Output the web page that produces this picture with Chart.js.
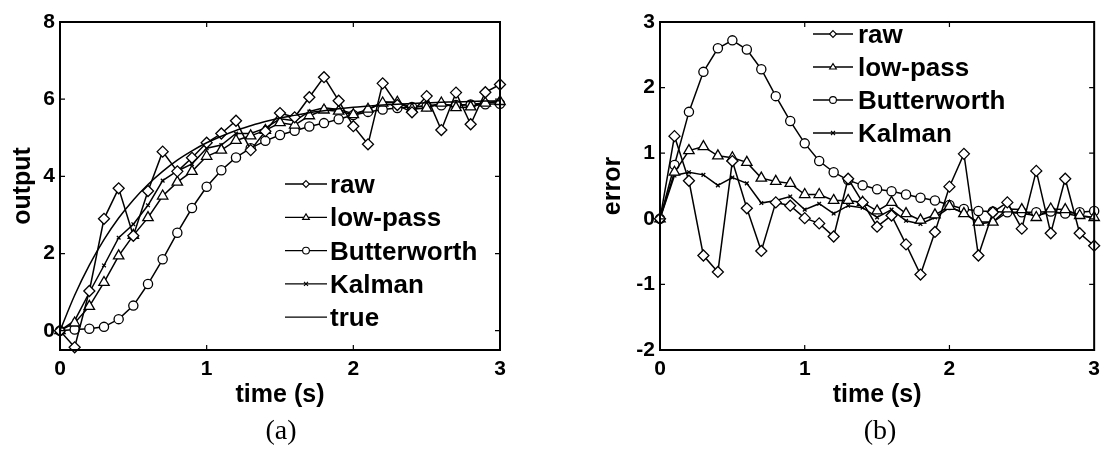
<!DOCTYPE html>
<html><head><meta charset="utf-8">
<script src="https://cdn.jsdelivr.net/npm/chart.js@4.4.1/dist/chart.umd.min.js"></script>
<style>
html,body{margin:0;padding:0;background:#fff;width:1107px;height:452px;overflow:hidden}
canvas{position:absolute;top:0}
#ca{left:0}
#cb{left:553px}
</style></head><body>
<canvas id="ca" width="553" height="452"></canvas>
<canvas id="cb" width="554" height="452"></canvas>
<script>
// ---- data ----
const time = [0,0.1,0.2,0.3,0.4,0.5,0.6,0.7,0.8,0.9,1.0,1.1,1.2,1.3,1.4,1.5,1.6,1.7,1.8,1.9,2.0,2.1,2.2,2.3,2.4,2.5,2.6,2.7,2.8,2.9,3.0];

// (a) output
const outRaw    = [0,-0.43,1.03,2.90,3.69,2.46,3.62,4.64,4.13,4.48,4.87,5.11,5.44,4.68,5.17,5.64,5.53,6.05,6.57,5.96,5.30,4.83,6.41,5.85,5.66,6.08,5.20,6.17,5.35,6.18,6.38];
const outLow    = [0,0.20,0.63,1.25,1.94,2.47,2.93,3.49,3.85,4.13,4.52,4.68,4.93,5.05,5.19,5.39,5.33,5.57,5.72,5.69,5.60,5.74,5.90,5.92,5.74,5.77,5.90,5.78,5.80,5.90,5.94];
const outButter = [0,0.03,0.05,0.10,0.30,0.65,1.21,1.85,2.54,3.18,3.73,4.16,4.49,4.73,4.92,5.07,5.18,5.29,5.38,5.48,5.59,5.67,5.73,5.77,5.80,5.82,5.84,5.85,5.86,5.87,5.88];
const outKalman = [0,0.26,0.99,1.69,2.41,2.76,3.25,3.89,4.14,4.32,4.73,4.81,5.11,5.11,5.25,5.49,5.44,5.68,5.78,5.73,5.62,5.72,5.93,5.92,5.79,5.83,5.87,5.83,5.86,5.91,5.94];
const outTrue   = [0,0.92,1.70,2.36,2.92,3.39,3.79,4.13,4.42,4.66,4.87,5.04,5.19,5.31,5.42,5.51,5.58,5.65,5.70,5.75,5.79,5.82,5.85,5.87,5.89,5.91,5.92,5.93,5.94,5.95,5.96];

// (b) error
const errRaw    = [0,1.26,0.58,-0.56,-0.81,0.88,0.16,-0.49,0.25,0.20,0.01,-0.07,-0.27,0.61,0.25,-0.12,0.05,-0.39,-0.85,-0.20,0.49,0.99,-0.56,0.10,0.25,-0.15,0.73,-0.22,0.61,-0.22,-0.41];
const errLow    = [0,0.71,1.04,1.10,0.96,0.93,0.86,0.62,0.57,0.54,0.37,0.37,0.28,0.28,0.25,0.12,0.25,0.08,-0.02,0.06,0.19,0.08,-0.05,-0.05,0.15,0.14,0.02,0.15,0.14,0.05,0.02];
const errButter = [0,0.82,1.63,2.24,2.60,2.72,2.58,2.28,1.87,1.49,1.15,0.88,0.71,0.59,0.51,0.45,0.42,0.37,0.32,0.28,0.21,0.15,0.12,0.11,0.10,0.10,0.10,0.11,0.08,0.10,0.12];
const errKalman = [0,0.66,0.71,0.67,0.51,0.63,0.54,0.24,0.28,0.34,0.14,0.23,0.08,0.20,0.17,0.02,0.14,-0.03,-0.08,0.02,0.17,0.10,-0.08,-0.05,0.10,0.08,0.05,0.10,0.08,0.04,0.02];

// ticks & labels
const xTicks = [0,1,2,3];
const yTicksA = [0,2,4,6,8];
const yTicksB = [-2,-1,0,1,2,3];
const seriesNames = ['raw','low-pass','Butterworth','Kalman','true'];

// ---- styling ----
const SANS = "'Liberation Sans', Arial, Helvetica, sans-serif";
const SERIF = "'Liberation Serif', 'DejaVu Serif', serif";
const markers = {
  raw:{style:'rectRot', r:5.5},
  'low-pass':{style:'triangle', r:6},
  Butterworth:{style:'circle', r:4.6},
  Kalman:{style:'crossRot', r:2.6},
  true:{style:false, r:0}
};

function pts(ys){ return time.map((t,i)=>({x:t, y:ys[i]})); }

function ds(name, ys){
  const m = markers[name];
  return {
    label:name, data:pts(ys), borderColor:'#000', borderWidth:1.5,
    pointStyle:m.style||'circle', pointRadius:m.r, pointBorderWidth:1.3,
    pointBackgroundColor:'#fff', pointBorderColor:'#000',
    fill:false, clip:false, tension:0,
    cubicInterpolationMode: name==='true' ? 'monotone' : 'default'
  };
}

function drawMarker(ctx, style, x, y, r){
  ctx.beginPath();
  if(style==='rectRot'){ ctx.moveTo(x,y-r); ctx.lineTo(x+r,y); ctx.lineTo(x,y+r); ctx.lineTo(x-r,y); ctx.closePath(); ctx.fillStyle='#fff'; ctx.fill(); ctx.stroke(); }
  else if(style==='triangle'){ const w=r*0.866; ctx.moveTo(x,y-r); ctx.lineTo(x+w*1.15,y+r*0.6); ctx.lineTo(x-w*1.15,y+r*0.6); ctx.closePath(); ctx.fillStyle='#fff'; ctx.fill(); ctx.stroke(); }
  else if(style==='circle'){ ctx.arc(x,y,r,0,Math.PI*2); ctx.fillStyle='#fff'; ctx.fill(); ctx.stroke(); }
  else if(style==='crossRot'){ ctx.moveTo(x-r,y-r); ctx.lineTo(x+r,y+r); ctx.moveTo(x+r,y-r); ctx.lineTo(x-r,y+r); ctx.stroke(); }
}

const decor = {
  id:'decor',
  afterDraw(chart, args, o){
    const ctx = chart.ctx;
    const {left,right,top,bottom} = chart.chartArea;
    const sx = chart.scales.x, sy = chart.scales.y;
    ctx.save();
    ctx.strokeStyle='#000';
    // inward tick marks on all four sides
    ctx.lineWidth=1.2;
    ctx.beginPath();
    sx.ticks.forEach(t=>{ const p=sx.getPixelForValue(t.value); if(p>left+2&&p<right-2){ ctx.moveTo(p,bottom); ctx.lineTo(p,bottom-5); ctx.moveTo(p,top); ctx.lineTo(p,top+5);} });
    sy.ticks.forEach(t=>{ const p=sy.getPixelForValue(t.value); if(p>top+2&&p<bottom-2){ ctx.moveTo(left,p); ctx.lineTo(left+5,p); ctx.moveTo(right,p); ctx.lineTo(right-5,p);} });
    ctx.stroke();
    // frame
    ctx.lineWidth=2;
    ctx.strokeRect(left,top,right-left,bottom-top);
    // legend
    ctx.font = "bold 26px " + SANS;
    ctx.textBaseline='middle'; ctx.textAlign='left';
    o.items.forEach((name,i)=>{
      const y = o.y0 + i*o.dy;
      ctx.lineWidth=1.3;
      ctx.beginPath(); ctx.moveTo(o.x0,y); ctx.lineTo(o.x1,y); ctx.stroke();
      const m = markers[name];
      if(m.style){ ctx.lineWidth=1.1; drawMarker(ctx, m.style, (o.x0+o.x1)/2, y, m.style==='crossRot'?2:3.4); }
      ctx.fillStyle='#000';
      ctx.fillText(name, o.tx, y+2);
    });
    // caption
    ctx.font = "28px " + SERIF;
    ctx.textAlign='center'; ctx.textBaseline='middle';
    ctx.fillStyle='#000';
    ctx.fillText(o.caption, o.cx, 432);
    ctx.restore();
  }
};

function makeChart(id, cfg){
  const tickFont = {family:SANS, size:21, weight:'bold'};
  const titleFont = {family:SANS, size:25, weight:'bold'};
  return new Chart(document.getElementById(id), {
    type:'line',
    data:{datasets:cfg.datasets},
    plugins:[decor],
    options:{
      responsive:false, animation:false, events:[],
      layout:{padding:{left:0, right:cfg.padRight, top:22, bottom:42}},
      plugins:{legend:{display:false}, tooltip:{enabled:false}, decor:cfg.decor},
      scales:{
        x:{type:'linear', min:0, max:3,
           afterBuildTicks:s=>{ s.ticks = xTicks.map(v=>({value:v})); },
           afterFit:s=>{ s.height = 60; },
           grid:{display:false, drawTicks:false}, border:{display:false},
           ticks:{font:tickFont, color:'#000', padding:7, autoSkip:false, maxRotation:0},
           title:{display:true, text:'time (s)', font:titleFont, color:'#000', padding:{top:0,bottom:0}}},
        y:{type:'linear', min:cfg.ymin, max:cfg.ymax,
           afterBuildTicks:s=>{ s.ticks = cfg.yTicks.map(v=>({value:v})); },
           afterFit:s=>{ s.width = cfg.yWidth; },
           grid:{display:false, drawTicks:false}, border:{display:false},
           ticks:{font:tickFont, color:'#000', padding:5, autoSkip:false},
           title:{display:true, text:cfg.yTitle, font:titleFont, color:'#000', padding:{top:cfg.yTitlePad,bottom:0}}}
      }
    }
  });
}

makeChart('ca', {
  datasets:[ds('true',outTrue), ds('raw',outRaw), ds('low-pass',outLow), ds('Butterworth',outButter), ds('Kalman',outKalman)],
  padRight:53, ymin:-0.5, ymax:8, yTicks:yTicksA, yWidth:60, yTitle:'output', yTitlePad:8,
  decor:{items:seriesNames, x0:285, x1:327, tx:330, y0:184, dy:33.3, caption:'(a)', cx:281}
});

makeChart('cb', {
  datasets:[ds('raw',errRaw), ds('low-pass',errLow), ds('Butterworth',errButter), ds('Kalman',errKalman)],
  padRight:8, ymin:-2, ymax:3, yTicks:yTicksB, yWidth:107, yTitle:'error', yTitlePad:45,
  decor:{items:seriesNames.slice(0,4), x0:260, x1:300, tx:305, y0:34, dy:33, caption:'(b)', cx:327}
});
</script>
</body></html>
